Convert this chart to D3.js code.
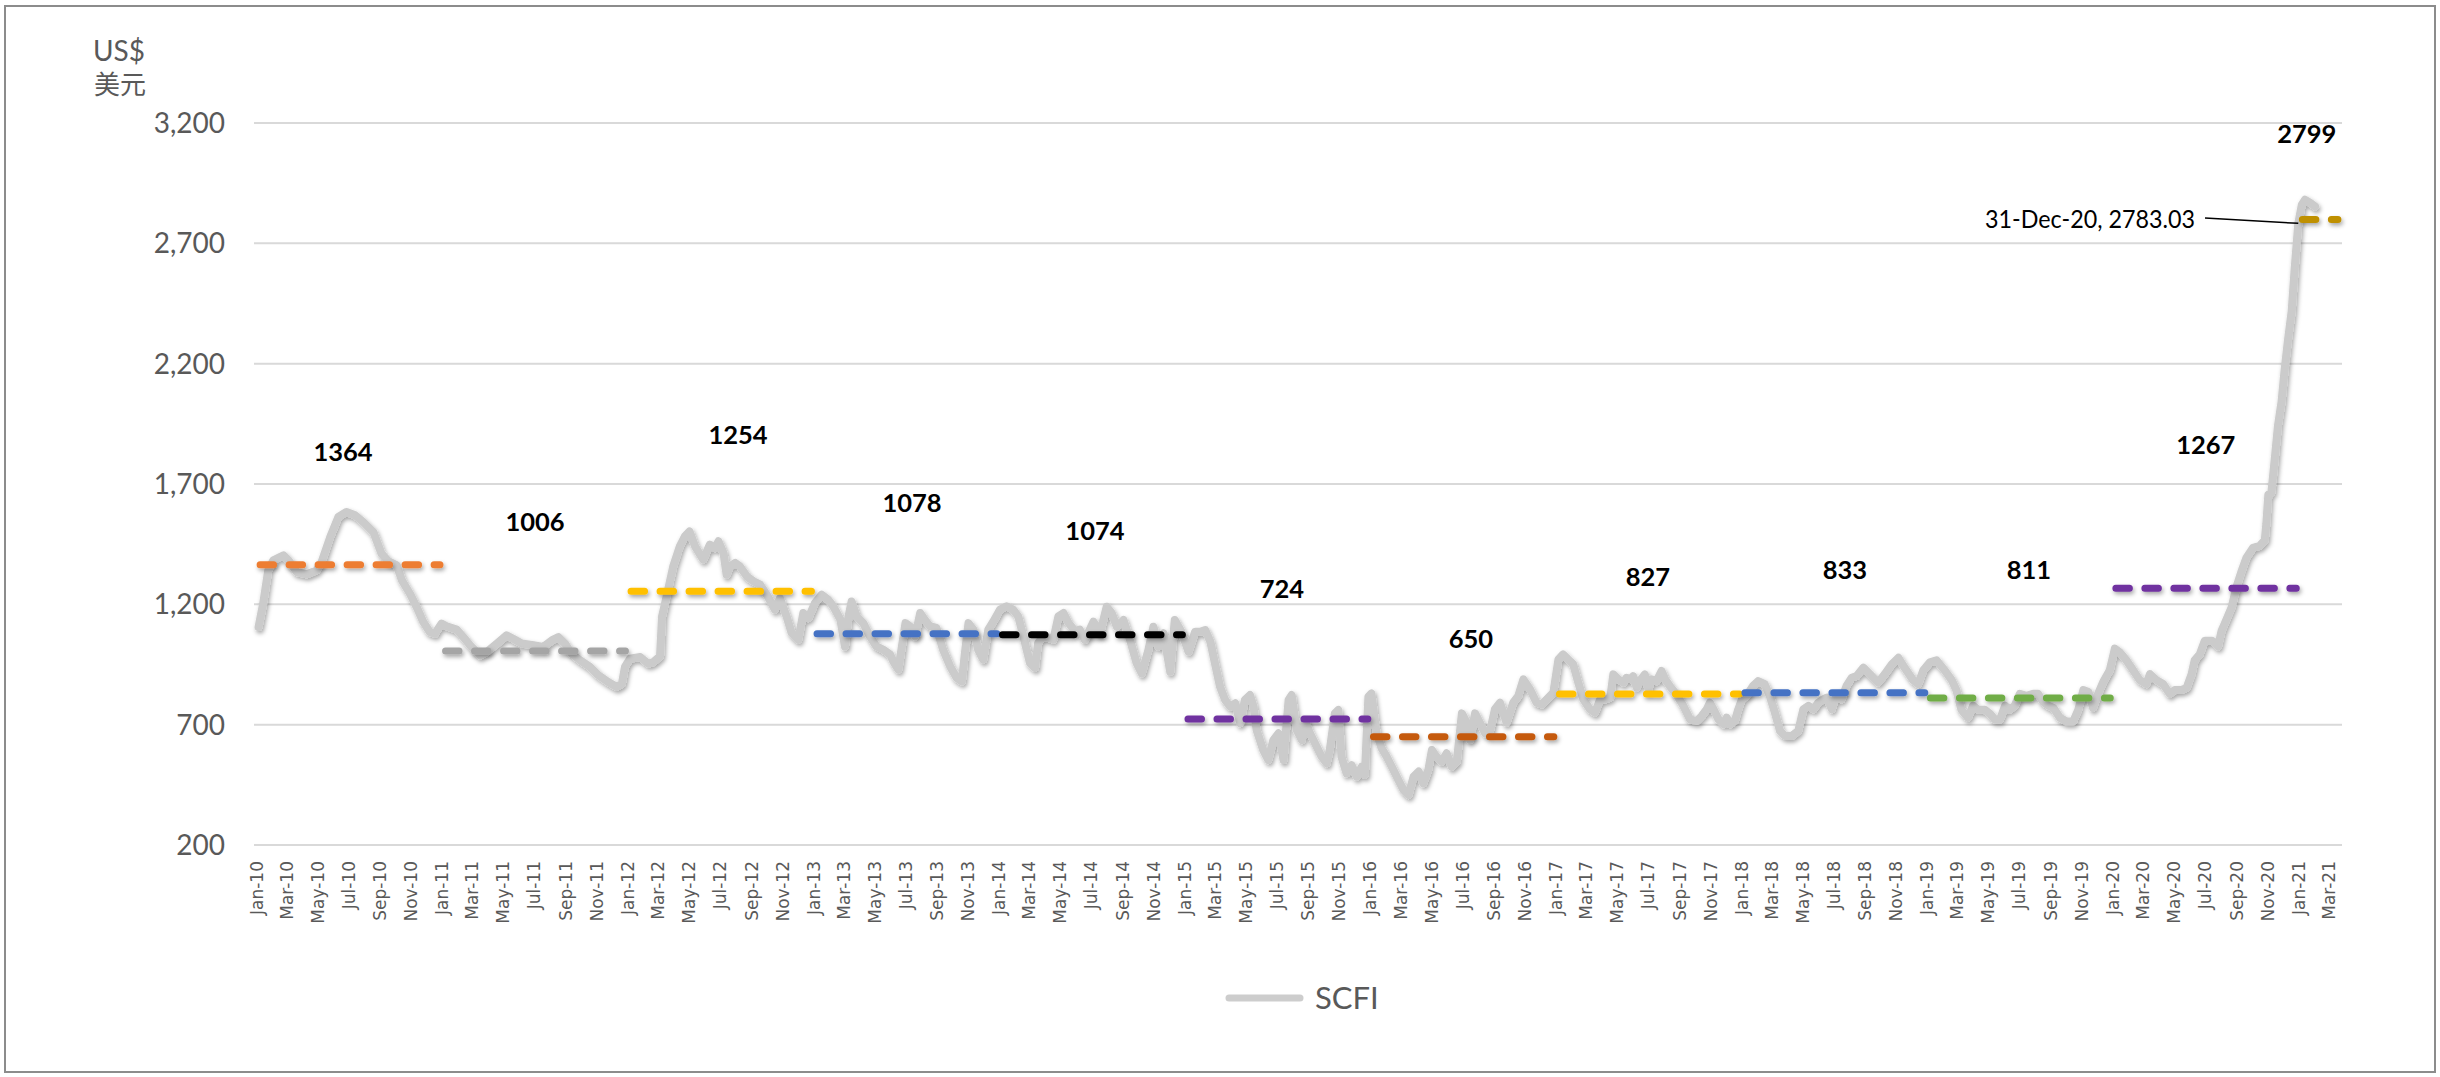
<!DOCTYPE html>
<html><head><meta charset="utf-8">
<script src="https://cdn.jsdelivr.net/npm/d3@7"></script>
<style>html,body{margin:0;padding:0;background:#fff;} svg{display:block}</style>
</head><body>
<svg id="chart" width="2440" height="1077"></svg>
<script>
// ---------- DATA ----------
const yTicks = [200, 700, 1200, 1700, 2200, 2700, 3200];
const seriesName = "SCFI";
// days since 1 Jan 2010
const scfiDays = [3,12,22,32,52,62,78,98,117,127,144,160,176,193,209,229,245,258,275,285,301,314,327,340,350,363,373,393,406,422,439,452,472,491,504,521,544,563,580,593,606,619,636,655,672,691,708,718,724,734,754,770,780,
793,797,806,819,832,842,851,862,878,891,901,908,918,924,931,941,950,964,977,990,1003,1019,1029,1042,1052,1065,1075,1085,1098,1111,1124,1134,1148,1157,1164,1170,1180,1193,1206,1219,1232,1246,1252,1262,1269,1276,1285,1295,1305,1314,1324,1337,1350,1364,1377,1387,1393,1400,1410,1419,1429,1439,1449,1462,1475,1488,1498,1508,1521,1531,1537,1547,1557,1567,1577,1587,1597,1610,1619,
1629,1646,1659,1672,1682,1692,1705,1718,1731,1741,1754,1764,1774,1784,1797,1806,1819,1833,1846,1856,1866,1876,1885,1895,1905,1915,1925,1935,1944,1954,1961,1967,1980,1990,2000,2010,2020,2030,2036,2046,2056,2062,2072,2085,2095,2105,2111,2121,2128,2134,2144,2154,2164,2174,2180,2187,2193,2203,2213,2223,2233,2246,2256,2266,2276,2286,2295,2305,2312,2321,2331,2341,2351,2361,2371,2381,2387,2397,2407,2417,2427,
2436,2446,2459,2472,2482,2492,2505,2518,2528,2538,2551,2561,2570,2580,2590,2600,2610,2623,2633,2643,2653,2663,2669,2679,2689,2695,2705,2708,2715,2721,2731,2738,2744,2754,2764,2771,2780,2793,2807,2820,2833,2843,2853,2859,2866,2876,2886,2892,2899,2908,2915,2922,2931,2944,2954,2967,2977,2987,2997,3007,3020,3033,3043,3053,3063,3072,3082,3089,3099,3108,3118,3128,3138,3148,3161,3174,3190,3203,3217,3230,
3243,3259,3269,3279,3292,3305,3321,3335,3344,3354,3367,3377,3387,3400,3410,3420,3430,3440,3449,3459,3469,3482,3495,3505,3515,3525,3535,3548,3561,3574,3584,3594,3604,3613,3623,3633,3646,3656,3666,3679,3692,3705,3718,3725,3738,3751,3764,3774,3787,3797,3807,3813,3823,3833,3847,3859,3866,3876,3886,3895,3905,3915,3928,3941,3951,3954,3958,3964,3971,3977,3984,3990,3997,4004,4010,4017,4024,4030,4040,4050];
const scfiValues = [1106,1203,1341,1383,1404,1383,1334,1325,1341,1376,1480,1563,1584,1570,1542,1500,1410,1380,1362,1300,1244,1189,1127,1085,1078,1120,1109,1095,1064,1023,988,1002,1037,1071,1057,1037,1030,1023,1050,1064,1037,995,967,940,905,877,857,870,940,974,981,953,960,
984,1150,1233,1358,1441,1483,1503,1441,1386,1448,1434,1462,1413,1323,1358,1372,1358,1316,1296,1282,1240,1178,1226,1150,1081,1053,1164,1143,1206,1240,1219,1192,1136,1025,1150,1212,1150,1122,1067,1025,1012,991,963,929,1025,1122,1109,1067,1164,1136,1109,1102,1012,942,894,880,998,1122,1095,1012,970,1095,1129,1178,1192,1178,1150,1067,956,936,1039,1067,1060,1053,1150,1164,1122,1088,1095,
1052,1128,1080,1190,1163,1107,1135,1052,955,913,1010,1107,1024,1080,920,1135,1086,1003,1086,1086,1093,1045,955,858,803,775,789,706,803,823,775,678,595,553,636,664,553,803,823,678,636,719,664,609,567,539,595,747,761,567,498,532,484,525,491,816,830,664,602,567,525,470,429,408,484,505,456,512,595,567,546,581,525,546,747,706,636,747,706,664,678,
764,791,708,791,819,888,847,791,784,805,833,971,992,971,951,875,805,764,750,805,805,812,909,888,875,895,888,902,854,881,909,847,888,881,923,888,861,826,778,722,715,736,764,791,764,722,702,729,702,715,764,805,819,861,881,868,819,750,674,653,653,674,764,778,764,791,805,812,764,826,805,861,895,902,937,909,875,909,951,978,
934,885,869,926,959,967,926,885,844,762,729,779,762,762,746,721,721,779,762,779,828,820,828,828,795,779,770,729,713,713,762,844,836,770,828,877,926,1016,1000,967,926,885,869,910,885,869,828,844,844,852,910,967,992,1049,1049,1025,1090,1139,1189,1270,1336,1394,1435,1443,1467,1533,1656,1664,1812,1943,2041,2173,2304,2419,2599,2783,2861,2881,2869,2853];
// yearly averages
const avgYears  = [2010,2011,2012,2013,2014,2015,2016,2017,2018,2019,2020,2021];
const avgValues = [1364,1006,1254,1078,1074,724,650,827,833,811,1267,2799];
const callout = {date: "2020-12-31", value: 2783.03, text: "31-Dec-20, 2783.03"};

// ---------- STYLE / LAYOUT ----------
const avgColors = ["#ED7D31","#A5A5A5","#FFC000","#4472C4","#000000","#7030A0","#C55A11","#FFC000","#4472C4","#70AD47","#7030A0","#BF9000"];
const labelDx = [86,92.5,110,98,95.5,97,100.5,91.5,103,101.5,93,8];     // px from 1 Jan of the year
const labelAt = [1833,1542,1904,1621,1505,1264,1056,1313,1342,1342,1862,3155]; // label centre, in axis units

const svg = d3.select("#chart");
const W = 2440, H = 1077;
const t0 = new Date(2010,0,1);
const dayToDate = d => d3.timeDay.offset(t0, d);

const x = d3.scaleTime().domain([new Date(2009,11,26), new Date(2021,2,27)]).range([254, 2342]);
const y = d3.scaleLinear().domain([200, 3200]).range([845, 123]);

// border
svg.append("rect").attr("x",5).attr("y",6).attr("width",W-10).attr("height",H-11)
  .attr("fill","#fff").attr("stroke","#8C8C8C").attr("stroke-width",2);

const defs = svg.append("defs");
const f = defs.append("filter").attr("id","shadow").attr("filterUnits","userSpaceOnUse")
  .attr("x",0).attr("y",0).attr("width",W).attr("height",H);
f.append("feDropShadow").attr("dx",1.5).attr("dy",2.5).attr("stdDeviation",2).attr("flood-color","#000").attr("flood-opacity",0.35);

// gridlines
svg.append("g").selectAll("line").data(yTicks).join("line")
  .attr("x1",254).attr("x2",2342).attr("y1",d=>y(d)).attr("y2",d=>y(d))
  .attr("stroke","#D9D9D9").attr("stroke-width",2);

// y tick labels
svg.append("g").selectAll("text").data(yTicks).join("text")
  .attr("x",225).attr("y",d=>y(d)).attr("dy","0.36em").attr("text-anchor","end")
  .attr("font-family","Lato, sans-serif").attr("font-size",28).attr("fill","#595959")
  .text(d3.format(","));

svg.append("text").attr("x",145).attr("y",61).attr("text-anchor","end")
  .attr("font-family","Lato, sans-serif").attr("font-size",28).attr("fill","#595959").text("US$");
svg.append("text").attr("x",146).attr("y",94).attr("text-anchor","end")
  .attr("font-family","'Noto Sans CJK SC', sans-serif").attr("font-size",26).attr("fill","#595959").text("美元");

// x tick labels
const xt = d3.timeMonth.every(2).range(new Date(2010,0,1), new Date(2021,2,2));
const fmt = d3.timeFormat("%b-%y");
svg.append("g").selectAll("text").data(xt).join("text")
  .attr("transform",d=>`translate(${x(d)},861) rotate(-90)`)
  .attr("text-anchor","end").attr("dy","0.35em")
  .attr("font-family","'DejaVu Sans', sans-serif").attr("font-size",17).attr("fill","#595959")
  .text(fmt);

// SCFI line
const pts = scfiDays.map((d,i)=>({date:dayToDate(d), v:scfiValues[i]}));
const line = d3.line().x(d=>x(d.date)).y(d=>y(d.v));
svg.append("path").datum(pts).attr("d",line).attr("fill","none")
  .attr("stroke","#CBCBCB").attr("stroke-width",8).attr("stroke-linejoin","round").attr("stroke-linecap","round")
  .attr("filter","url(#shadow)");

// yearly average dashes
const g = svg.append("g");
avgYears.forEach((yr,i)=>{
  const s = yr===2021 ? new Date(yr,0,8) : new Date(yr,0,7);
  const e = yr===2021 ? new Date(2021,2,19) : new Date(yr,11,27);
  g.append("line").attr("x1",x(s)).attr("x2",x(e)).attr("y1",y(avgValues[i])).attr("y2",y(avgValues[i]))
    .attr("stroke",avgColors[i]).attr("stroke-width",7).attr("stroke-linecap","round")
    .attr("stroke-dasharray","13.5 15.5").attr("filter","url(#shadow)");
  g.append("text").attr("x",x(new Date(yr,0,1))+labelDx[i]).attr("y",y(labelAt[i])).attr("dy","0.36em")
    .attr("text-anchor","middle").attr("font-family","Lato, sans-serif").attr("font-weight","bold")
    .attr("font-size",25.5).attr("fill","#000").text(avgValues[i]);
});

// callout
const cx = x(d3.timeParse("%Y-%m-%d")(callout.date)), cy = y(callout.value);
svg.append("line").attr("x1",2205).attr("y1",218).attr("x2",cx).attr("y2",cy).attr("stroke","#000").attr("stroke-width",1.5);
svg.append("text").attr("x",1985).attr("y",219).attr("dy","0.36em").attr("textLength",210).attr("lengthAdjust","spacingAndGlyphs")
  .attr("font-family","Lato, sans-serif").attr("font-size",25).attr("fill","#000").text(callout.text);

// legend
svg.append("line").attr("x1",1229).attr("x2",1300).attr("y1",998).attr("y2",998)
  .attr("stroke","#CDCDCD").attr("stroke-width",7).attr("stroke-linecap","round");
svg.append("text").attr("x",1315).attr("y",1009).attr("font-family","Lato, sans-serif").attr("font-size",31)
  .attr("fill","#595959").text(seriesName);
</script>
</body></html>
